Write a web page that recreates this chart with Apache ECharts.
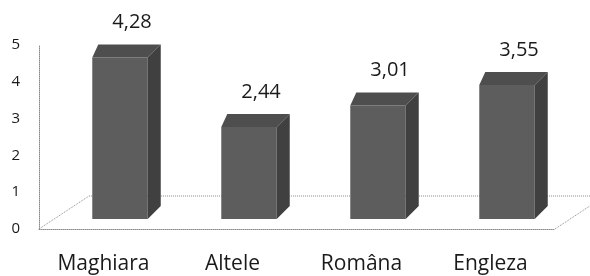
<!DOCTYPE html>
<html>
<head>
<meta charset="utf-8">
<script src="https://cdn.jsdelivr.net/npm/echarts@6/dist/echarts.min.js"></script>
<style>
  html, body { margin: 0; padding: 0; background: #fff; }
  #chart { width: 590px; height: 276px; }
</style>
</head>
<body>
<div id="chart"></div>
<script>
// datele graficului
const categories = ['Maghiara', 'Altele', 'Româna', 'Engleza']
const values = [4.28, 2.44, 3.01, 3.55]
const valueLabels = ['4,28', '2,44', '3,01', '3,55']
const yTicks = [0, 1, 2, 3, 4, 5]

const chart = echarts.init(document.getElementById('chart'))

const dotted = { color: '#8a8a8a', width: 1, type: 'dotted' }

// podeaua 3D (decor), construita din dimensiunile gridului
const renderFloor = (params, api) => {
  const cs = params.coordSys
  const bx = cs.x, by = cs.y + cs.height
  const dx = 50, dy = 33
  return {
    type: 'group',
    children: [
      { type: 'polyline', shape: { points: [[bx, by], [bx + dx, by - dy], [bx + cs.width + dx, by - dy]] }, style: { stroke: dotted.color, lineDash: [1, 1], fill: null } },
      { type: 'line', shape: { x1: bx + cs.width, y1: by, x2: bx + cs.width + dx, y2: by - dy }, style: { stroke: dotted.color, lineDash: [1, 1] } }
    ]
  }
}

// bare 3D: fata, capac, lateral
const renderBar = (params, api) => {
  const idx = api.value(0)
  const v = api.value(1)
  const base = api.coord([idx, 0])
  const top = api.coord([idx, v])
  const band = api.size([1, 0])[0]
  const w = band * 0.43
  const cx = base[0] + band * 0.128
  const y0 = base[1] - 10
  const h = (base[1] - top[1]) * 1.025
  const y1 = y0 - h
  const x0 = cx - w / 2, x1 = cx + w / 2
  const dx = 13, dy = 13
  return {
    type: 'group',
    children: [
      { type: 'rect', shape: { x: x0, y: y1, width: w, height: h }, style: { fill: '#5d5d5d' } },
      { type: 'polygon', shape: { points: [[x0, y1], [x0 + 6, y1 - dy], [x1 + dx, y1 - dy], [x1, y1]] }, style: { fill: '#4e4e4e' } },
      { type: 'polygon', shape: { points: [[x1, y1], [x1 + dx, y1 - dy], [x1 + dx, y0 - dy], [x1, y0]] }, style: { fill: '#404040' } },
      {
        type: 'text',
        style: {
          text: valueLabels[idx], x: cx + 12, y: y1 - dy - 22,
          align: 'center', verticalAlign: 'middle',
          font: '20px "Open Sans"', fill: '#1a1a1a'
        }
      }
    ]
  }
}

const option = {
  animation: false,
  grid: { left: 39, right: 35, top: 45, bottom: 47 },
  xAxis: {
    type: 'category',
    data: categories,
    axisTick: { show: false },
    axisLine: { lineStyle: dotted },
    axisLabel: { fontFamily: 'Open Sans', fontSize: 21, color: '#1a1a1a', margin: 25 }
  },
  yAxis: {
    type: 'value',
    min: yTicks[0],
    max: yTicks[yTicks.length - 1],
    interval: 1,
    splitLine: { show: false },
    axisTick: { show: false },
    axisLine: { show: true, lineStyle: dotted },
    axisLabel: { fontFamily: 'Open Sans', fontSize: 15, color: '#1a1a1a', margin: 19 }
  },
  series: [
    {
      type: 'custom',
      renderItem: renderFloor,
      data: [[0, 0]],
      clip: false,
      silent: true,
      z: 1
    },
    {
      type: 'custom',
      renderItem: renderBar,
      data: values.map((v, i) => [i, v]),
      clip: false,
      z: 2
    }
  ]
}

chart.setOption(option)
</script>
</body>
</html>
